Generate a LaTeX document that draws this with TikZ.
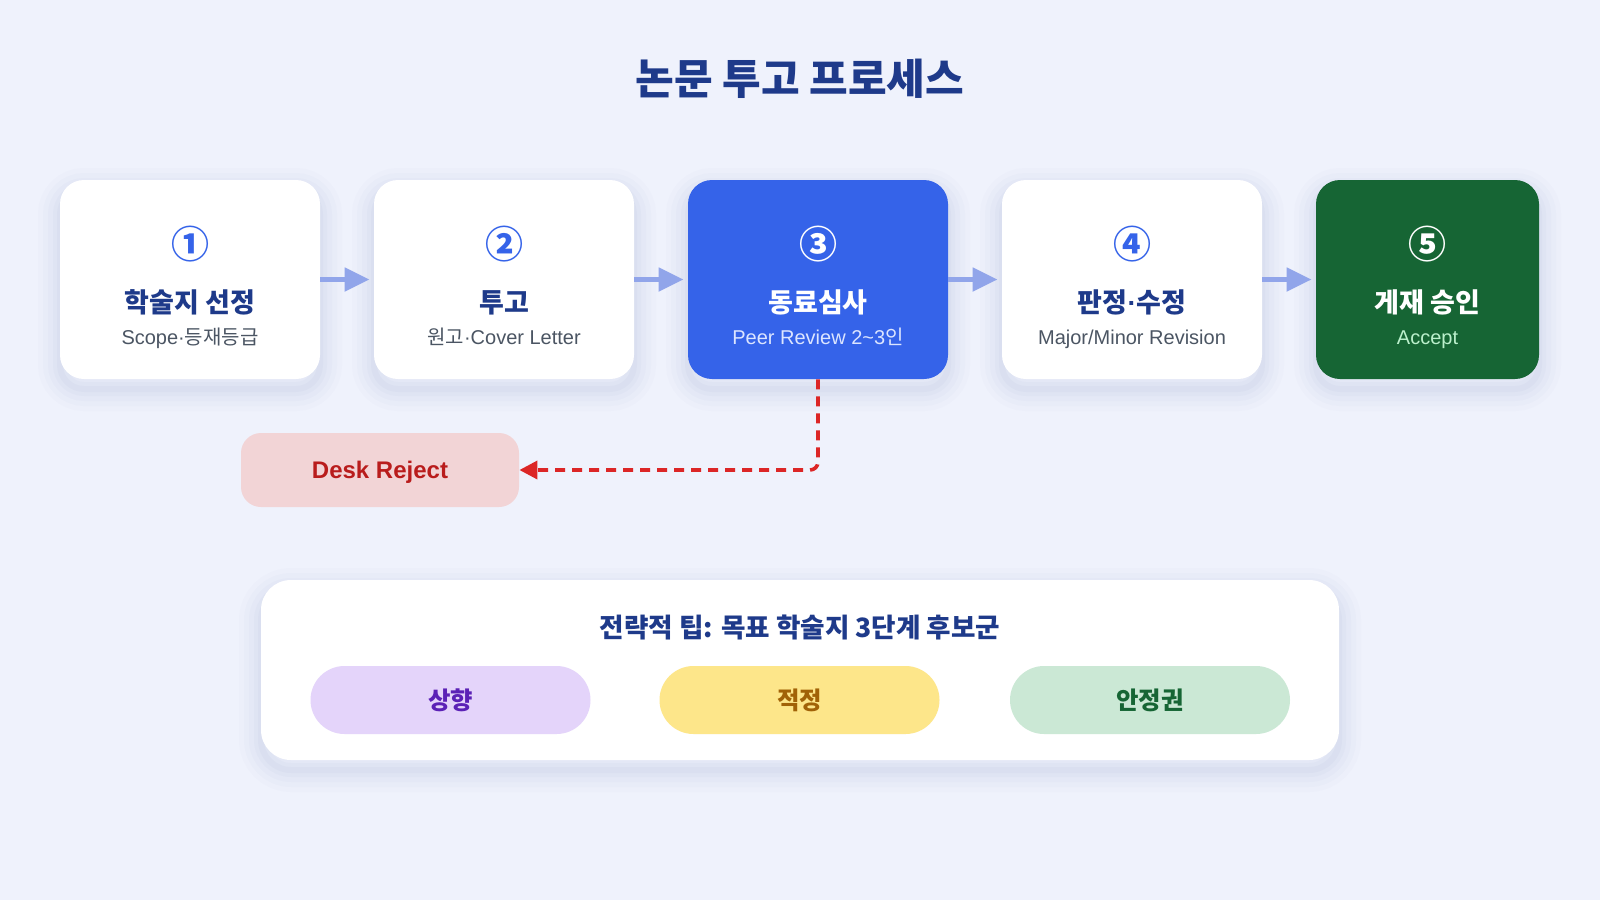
\documentclass[tikz,border=0pt]{standalone}
\usepackage{fontspec}
\setmainfont{Liberation Sans}
\newfontfamily\kr{Noto Sans CJK KR}
\usetikzlibrary{arrows.meta}

\definecolor{bgcol}{HTML}{EFF2FC}
\definecolor{shadowcol}{HTML}{4A5FA8}
\definecolor{navy}{HTML}{1E3A8A}
\definecolor{slate}{HTML}{4B5563}
\definecolor{bluebox}{HTML}{3563E9}
\definecolor{bluesub}{HTML}{DCE5FF}
\definecolor{greenbox}{HTML}{166534}
\definecolor{greensub}{HTML}{BBF0CC}
\definecolor{flowcol}{HTML}{91A5EA}
\definecolor{rejectred}{HTML}{DC2626}
\definecolor{rejectfill}{HTML}{F2D4D6}
\definecolor{rejecttext}{HTML}{B91C1C}
\definecolor{upfill}{HTML}{E4D4FA}
\definecolor{uptext}{HTML}{5B21B6}
\definecolor{midfill}{HTML}{FDE68A}
\definecolor{midtext}{HTML}{A16207}
\definecolor{safefill}{HTML}{CBE8D5}
\definecolor{safetext}{HTML}{166534}

\tikzset{
  soft/.style={
    preaction={draw=shadowcol, line width=22pt, opacity=0.015, transform canvas={yshift=-5pt}},
    preaction={draw=shadowcol, line width=17pt, opacity=0.018, transform canvas={yshift=-5pt}},
    preaction={draw=shadowcol, line width=12pt, opacity=0.022, transform canvas={yshift=-5pt}},
    preaction={draw=shadowcol, line width=7pt, opacity=0.026, transform canvas={yshift=-5pt}},
    preaction={draw=shadowcol, line width=3pt, opacity=0.03, transform canvas={yshift=-5pt}}},
  card/.style={soft, fill=white, rounded corners=12pt, minimum width=130pt, minimum height=99.5pt},
  num/.style={font=\kr\bfseries\fontsize{19}{22}\selectfont, text=bluebox},
  steptitle/.style={anchor=base, font=\kr\bfseries\fontsize{13.5}{16}\selectfont, text=navy},
  stepsub/.style={anchor=base, font=\fontsize{10}{12}\selectfont, text=slate},
  flow/.style={line width=2.5pt, flowcol, -{Triangle[length=12.5pt,width=11.5pt]}, shorten >=2pt},
  reject/.style={line width=1.8pt, rejectred, dash pattern=on 5pt off 3.5pt, rounded corners=4pt, -{Triangle[length=9pt,width=9pt]}},
  pill/.style={rounded corners=17pt, minimum width=140pt, minimum height=34pt, font=\kr\bfseries\fontsize{12.2}{15}\selectfont}
}

\begin{document}
\begin{tikzpicture}[x=0.5pt,y=-0.5pt]
  \fill[bgcol] (0,0) rectangle (1600,900);

  \node[font=\kr\bfseries\fontsize{21}{25}\selectfont, text=navy] (title) at (800,79) {논문 투고 프로세스};

  % process steps
  \node[card] (b1) at (190,279.5) {};
  \node[card] (b2) at (504,279.5) {};
  \node[card, fill=bluebox] (b3) at (818,279.5) {};
  \node[card] (b4) at (1132,279.5) {};
  \node[card, fill=greenbox, minimum width=111.5pt] (b5) at (1427.5,279.5) {};

  \node[num] (n1) at (190,244) {①};
  \node[steptitle] (t1) at (190,312) {학술지 선정};
  \node[stepsub] (s1) at (190,344) {Scope·{\kr 등재등급}};

  \node[num] (n2) at (504,244) {②};
  \node[steptitle] (t2) at (504,312) {투고};
  \node[stepsub] (s2) at (504,344) {{\kr 원고}·Cover Letter};

  \node[num, text=white] (n3) at (818,244) {③};
  \node[steptitle, text=white] (t3) at (818,312) {동료심사};
  \node[stepsub, text=bluesub] (s3) at (818,344) {Peer Review 2\textasciitilde 3{\kr 인}};

  \node[num] (n4) at (1132,244) {④};
  \node[steptitle] (t4) at (1132,312) {판정{\rmfamily ·}수정};
  \node[stepsub] (s4) at (1132,344) {Major/Minor Revision};

  \node[num, text=white] (n5) at (1427.5,244) {⑤};
  \node[steptitle, text=white] (t5) at (1427.5,312) {게재 승인};
  \node[stepsub, text=greensub] (s5) at (1427.5,344) {Accept};

  \draw[flow] (b1.east) -- (b2.west);
  \draw[flow] (b2.east) -- (b3.west);
  \draw[flow] (b3.east) -- (b4.west);
  \draw[flow] (b4.east) -- (b5.west);

  % desk reject branch
  \node[fill=rejectfill, rounded corners=10pt, minimum width=139pt, minimum height=37pt,
        text height=8.6pt, text depth=0pt,
        font=\bfseries\fontsize{12}{14}\selectfont, text=rejecttext] (dr) at (380,470) {Desk Reject};
  \draw[reject] (b3.south) |- (dr.east);

  % strategy panel
  \node[soft, fill=white, rounded corners=15pt, minimum width=539pt, minimum height=90pt] (tip) at (800,670) {};
  \node[font=\kr\bfseries\fontsize{13.3}{16}\selectfont, text=navy] (tiptitle) at (800,627) {전략적 팁: 목표 학술지 3단계 후보군};
  \node[pill, fill=upfill, text=uptext] (up) at (450.5,700) {상향};
  \node[pill, fill=midfill, text=midtext] (mid) at (799.5,700) {적정};
  \node[pill, fill=safefill, text=safetext] (safe) at (1150,700) {안정권};
\end{tikzpicture}
\end{document}
